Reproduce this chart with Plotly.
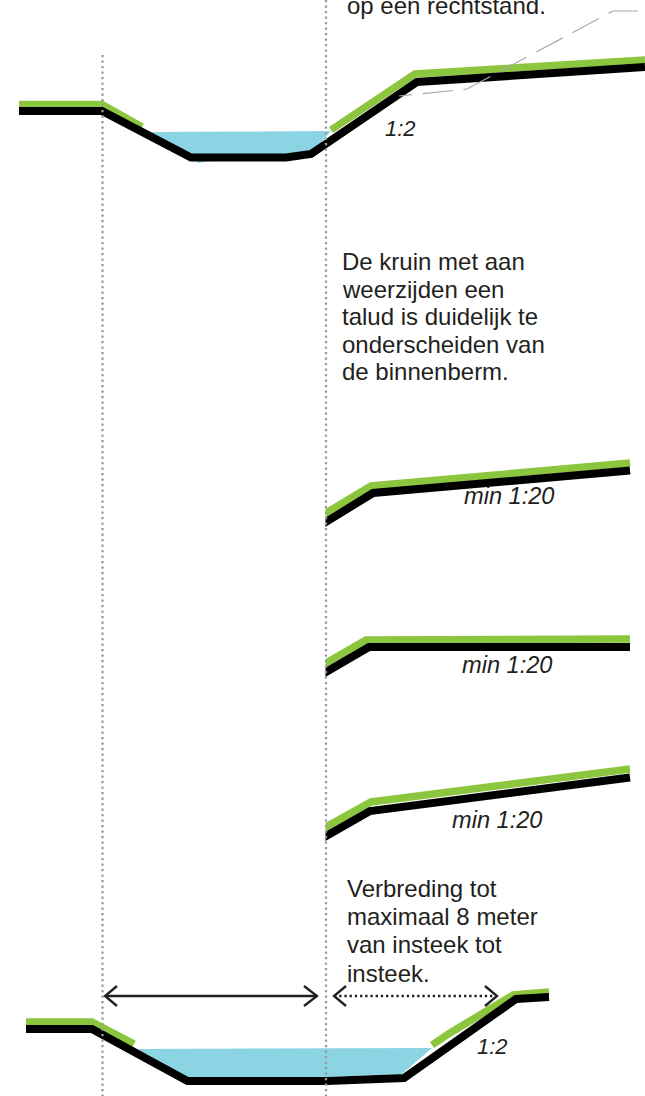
import plotly.graph_objects as go

# --- profile geometry (x, y in drawing units) ---
water_1_x = [148, 331, 311, 286, 210, 198, 191]
water_1_y = [132, 131, 154, 155, 161, 163, 155]
water_5_x = [137.5, 432, 402, 327, 187.5]
water_5_y = [1049, 1048, 1074, 1077, 1077]

green_1a_x = [19, 102, 142]
green_1a_y = [104.5, 104.5, 127]
green_1b_x = [331, 415, 645]
green_1b_y = [130, 74, 60]
black_1_x = [19, 102, 191, 286, 311, 417, 645]
black_1_y = [111, 111, 157.5, 157.5, 154, 82, 67]

green_2_x = [320, 371, 630]
green_2_y = [516.6, 486, 463]
black_2_x = [320, 373, 630]
black_2_y = [525.7, 493, 470.5]

green_3_x = [320, 366, 630]
green_3_y = [666.5, 640, 639]
black_3_x = [320, 369, 630]
black_3_y = [675.5, 647, 647]

green_4_x = [320, 371, 630]
green_4_y = [830.4, 802, 769]
black_4_x = [320, 370, 630]
black_4_y = [839.4, 811, 777.5]

green_5a_x = [26, 92, 134]
green_5a_y = [1022, 1022, 1044]
green_5b_x = [432, 450, 513, 549]
green_5b_y = [1045, 1033, 995, 992]
black_5_x = [26, 92, 187.5, 327, 404, 516, 549]
black_5_y = [1029, 1029, 1081, 1081, 1078, 999, 997]

# white strip that trims the three detail profiles at the right guide
trim_x = [310, 325.5, 325.5, 310]
trim_y = [500, 500, 850, 850]

guide_left_x = [102.5, 102.5]
guide_left_y = [55, 1096]
guide_right_x = [326, 326]
guide_right_y = [0, 1096]

leader_x = [638, 613, 467, 399]
leader_y = [11, 11, 89, 96]

arrow_solid_x = [105, 317]
arrow_solid_y = [996, 996]
head_solid_l_x = [117, 105, 117]
head_solid_r_x = [304, 317, 304]
head_y = [986, 996, 1006]
arrow_dot_x = [334, 497]
arrow_dot_y = [996, 996]
head_dot_l_x = [346, 334, 346]
head_dot_r_x = [485, 497, 485]

# --- texts ---
body_texts = ["op een rechtstand.",
              "De kruin met aan", "weerzijden een", "talud is duidelijk te",
              "onderscheiden van", "de binnenberm.",
              "Verbreding tot", "maximaal 8 meter", "van insteek tot", "insteek."]
body_x = [347, 342, 342, 342, 342, 342, 347, 347, 347, 347]
body_y = [5, 261, 289, 316, 344, 371, 888, 916, 944, 973]

slope_texts = ["1:2", "min 1:20", "min 1:20", "min 1:20", "1:2"]
slope_x = [385, 464, 462, 452, 477]
slope_y = [128, 496, 665, 820, 1046]
slope_sizes = [22, 23.6, 23.6, 23.6, 22]

GREEN = "#8cc63f"
BLACK = "#000000"
WATER = "#8bd4e4"
GREY = "#9a9a9a"
INK = "#231f20"
FONT = "Liberation Sans"

fig = go.Figure()


def line(x, y, color, width, dash="solid"):
    fig.add_trace(go.Scatter(x=x, y=y, mode="lines", hoverinfo="skip", showlegend=False,
                             line=dict(color=color, width=width, dash=dash)))


def area(x, y, color):
    fig.add_trace(go.Scatter(x=x + x[:1], y=y + y[:1], mode="lines", fill="toself",
                             fillcolor=color, line=dict(width=0), hoverinfo="skip",
                             showlegend=False))


area(water_1_x, water_1_y, WATER)
area(water_5_x, water_5_y, WATER)

for gx, gy in [(green_1a_x, green_1a_y), (green_1b_x, green_1b_y), (green_2_x, green_2_y),
               (green_3_x, green_3_y), (green_4_x, green_4_y), (green_5a_x, green_5a_y),
               (green_5b_x, green_5b_y)]:
    line(gx, gy, GREEN, 7.5)

for bx, by in [(black_1_x, black_1_y), (black_2_x, black_2_y), (black_3_x, black_3_y),
               (black_4_x, black_4_y), (black_5_x, black_5_y)]:
    line(bx, by, BLACK, 8)

area(trim_x, trim_y, "#ffffff")

line(leader_x, leader_y, "#a8a8a8", 1.2, "30px,11px")
line(guide_left_x, guide_left_y, GREY, 2.3, "2.3px,3.2px")
line(guide_right_x, guide_right_y, GREY, 2.3, "2.3px,3.2px")

line(arrow_solid_x, arrow_solid_y, INK, 2.3)
line(head_solid_l_x, head_y, INK, 2.3)
line(head_solid_r_x, head_y, INK, 2.3)
line(arrow_dot_x, arrow_dot_y, INK, 2.3, "2.3px,2.9px")
line(head_dot_l_x, head_y, INK, 2.3)
line(head_dot_r_x, head_y, INK, 2.3)

for t, x, y in zip(body_texts, body_x, body_y):
    fig.add_annotation(x=x, y=y, text=t, showarrow=False, xanchor="left", yanchor="middle",
                       xshift=-2, font=dict(family=FONT, size=24, color=INK))
for t, x, y, s in zip(slope_texts, slope_x, slope_y, slope_sizes):
    fig.add_annotation(x=x, y=y, text=f"<i>{t}</i>", showarrow=False, xanchor="left",
                       yanchor="middle", xshift=-2, font=dict(family=FONT, size=s, color=INK))

fig.update_layout(
    width=645, height=1096, autosize=False,
    margin=dict(l=0, r=0, t=0, b=0),
    paper_bgcolor="white", plot_bgcolor="white",
    xaxis=dict(range=[0, 645], visible=False, fixedrange=True),
    yaxis=dict(range=[1096, 0], visible=False, fixedrange=True),
)

fig.write_html("out.html", config={"displayModeBar": False},
               post_script="document.body.style.margin='0';document.documentElement.style.overflow='hidden';")
